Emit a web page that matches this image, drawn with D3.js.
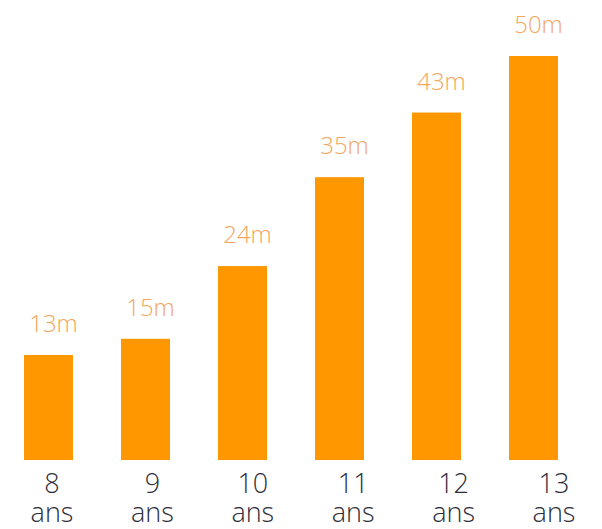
<!DOCTYPE html>
<html>
<head>
<meta charset="utf-8">
<script src="https://cdnjs.cloudflare.com/ajax/libs/d3/7.8.5/d3.min.js"></script>
<style>
  body { margin: 0; background: #fff; }
  text { font-family: "Open Sans", "DejaVu Sans", sans-serif; }
</style>
</head>
<body>
<svg id="the-svg" width="602" height="529"></svg>
<script>
var ages = ["8", "9", "10", "11", "12", "13"];
var heights = [13, 15, 24, 35, 43, 50];
var valueLabels = ["13m", "15m", "24m", "35m", "43m", "50m"];
var unitLabel = "ans";

var theSvg = d3.select("#the-svg");
var baseY = 460;

var x = d3.scaleBand()
    .domain(ages)
    .range([24, 558])
    .paddingInner(0.495)
    .paddingOuter(0)
    .align(0);

// the age labels sit slightly right of the bars, spread a bit wider
var xLabel = d3.scalePoint()
    .domain(ages)
    .range([52, 554]);

var y = d3.scaleLinear()
    .domain([0, 50])
    .range([baseY, 56]);

var bars = theSvg.selectAll(".bar").data(ages)
    .enter().append("g")
        .attr("class", "bar");

bars.append("rect")
    .attr("x", function(d) { return x(d); })
    .attr("y", function(d, i) { return y(heights[i]); })
    .attr("width", x.bandwidth())
    .attr("height", function(d, i) { return baseY - y(heights[i]); })
    .attr("fill", "#ff9700");

bars.append("text")
    .attr("x", function(d) { return x(d) + x.bandwidth() / 2 + 5; })
    .attr("y", function(d, i) { return y(heights[i]) - 23; })
    .attr("text-anchor", "middle")
    .attr("font-size", 24)
    .attr("font-weight", 300)
    .attr("fill", "#f3a65c")
    .text(function(d, i) { return valueLabels[i]; });

var labels = bars.append("text")
    .attr("text-anchor", "middle")
    .attr("font-size", 27)
    .attr("font-weight", 300)
    .attr("fill", "#2e2e3a");

labels.append("tspan")
    .attr("x", function(d) { return xLabel(d); })
    .attr("y", 493)
    .text(function(d) { return d; });

labels.append("tspan")
    .attr("x", function(d) { return xLabel(d); })
    .attr("y", 522)
    .text(unitLabel);
</script>
</body>
</html>
